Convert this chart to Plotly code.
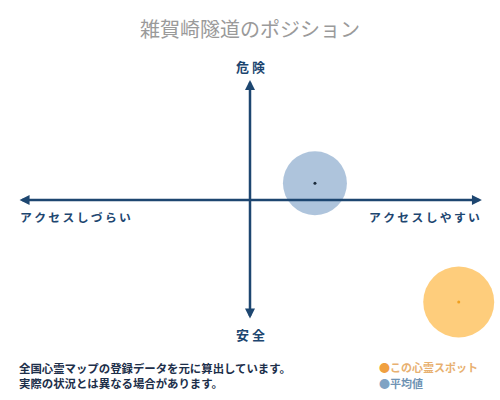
import plotly.graph_objects as go

# axis values: access (-100 hard .. 100 easy), danger (-100 safe .. 100 dangerous)
names = ["平均値", "この心霊スポット"]
access = [28, 90]
danger = [14, -85]
colors = ["rgba(160,186,214,0.85)", "rgba(254,200,110,0.9)"]
dot_colors = ["#1a2a3a", "#f0a020"]
sizes = [64, 71]

title = "雑賀崎隧道のポジション"
top_label = "危 険"
bottom_label = "安 全"
left_label = "アクセスしづらい"
right_label = "アクセスしやすい"
notes = ["全国心霊マップの登録データを元に算出しています。", "実際の状況とは異なる場合があります。"]

navy = "#1d4670"
font = "Noto Sans CJK JP"
sp = "\u2009"

fig = go.Figure()
for i in range(2):
    fig.add_trace(go.Scatter(
        x=[access[i]], y=[danger[i]], mode="markers",
        marker=dict(size=sizes[i], color=colors[i], line=dict(width=0)),
        hoverinfo="skip", showlegend=False
    ))
    fig.add_trace(go.Scatter(
        x=[access[i]], y=[danger[i]], mode="markers",
        marker=dict(size=3, color=dot_colors[i]),
        hoverinfo="skip", showlegend=False
    ))

# axis arrows
fig.add_annotation(x=100, y=0, ax=-100, ay=0, xref="x", yref="y", axref="x", ayref="y",
                   showarrow=True, arrowhead=2, arrowside="end+start", arrowsize=0.8,
                   arrowwidth=2.5, arrowcolor=navy, text="")
fig.add_annotation(x=0, y=100, ax=0, ay=-100, xref="x", yref="y", axref="x", ayref="y",
                   showarrow=True, arrowhead=2, arrowside="end+start", arrowsize=0.8,
                   arrowwidth=2.5, arrowcolor=navy, text="")

px = lambda v: v / 500
py = lambda v: 1 - v / 400

fig.add_annotation(x=0.5, y=py(28), xref="paper", yref="paper", text=title, showarrow=False,
                   font=dict(family=font, size=20, color="#9a9a9a"), yanchor="middle")
fig.add_annotation(x=0, y=111, xref="x", yref="y", text="<b>" + top_label + "</b>", showarrow=False,
                   font=dict(family=font, size=13, color=navy))
fig.add_annotation(x=0, y=-112, xref="x", yref="y", text="<b>" + bottom_label + "</b>", showarrow=False,
                   font=dict(family=font, size=13, color=navy))
fig.add_annotation(x=-100, y=-14, xref="x", yref="y", text="<b>" + sp.join(left_label) + "</b>",
                   showarrow=False, xanchor="left", font=dict(family=font, size=11.8, color=navy))
fig.add_annotation(x=100, y=-14, xref="x", yref="y", text="<b>" + sp.join(right_label) + "</b>",
                   showarrow=False, xanchor="right", font=dict(family=font, size=11.8, color=navy))

for k, line in enumerate(notes):
    fig.add_annotation(x=px(17), y=py(368 + 15 * k), xref="paper", yref="paper",
                       text="<b>" + line + "</b>",
                       showarrow=False, xanchor="left", yanchor="middle",
                       font=dict(family=font, size=11.4, color="#1d2f4a"))

# legend
legend_items = [("この心霊スポット", "#f0a040", "#e8b070"), ("平均値", "#7fa3c4", "#6f93b4")]
for k, (lab, dc, tc) in enumerate(legend_items):
    fig.add_annotation(x=px(377), y=py(367 + 16 * k), xref="paper", yref="paper",
                       text="<span style='color:%s'>●</span><b>%s</b>" % (dc, lab),
                       showarrow=False, xanchor="left", yanchor="middle",
                       font=dict(family=font, size=11, color=tc))

fig.update_layout(
    width=500, height=400, autosize=False,
    margin=dict(l=0, r=0, t=0, b=0),
    paper_bgcolor="white", plot_bgcolor="white",
    xaxis=dict(range=[-107.8, 107.8], visible=False, fixedrange=True),
    yaxis=dict(range=[-166.7, 166.7], visible=False, fixedrange=True),
    showlegend=False
)

fig.write_html("out.html", config={"displayModeBar": False},
               post_script="document.body.style.margin='0';")
